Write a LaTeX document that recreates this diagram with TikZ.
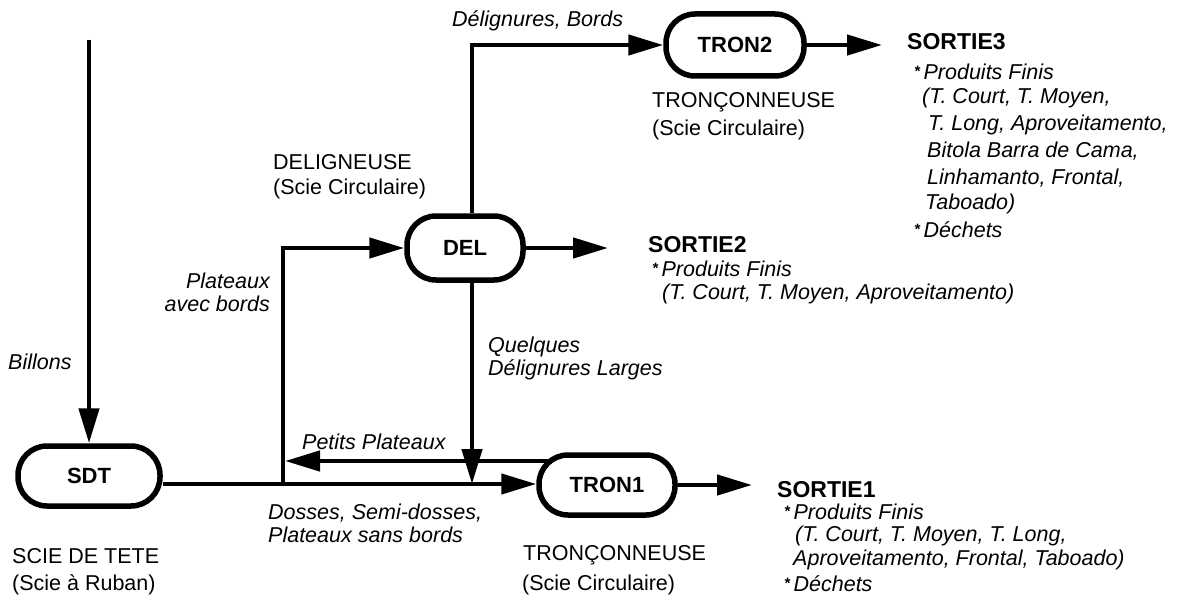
\documentclass[tikz,border=0pt]{standalone}
\usepackage{fontspec}
\setmainfont{Liberation Sans}
\usetikzlibrary{arrows.meta,calc}
\newcommand{\bul}{\raisebox{3pt}{\fontsize{15}{15}\selectfont\bfseries *}\,}
\begin{document}
\begin{tikzpicture}[x=1pt,y=-1pt,
 box/.style={draw, line width=5.5pt, rounded corners=29pt, minimum height=60pt, inner sep=0pt, font=\fontsize{22}{26}\selectfont\bfseries},
 flow/.style={line width=4.5pt, -{Triangle[length=35pt,width=20pt]}},
 lbl/.style={anchor=west, inner sep=0pt, font=\fontsize{21.5}{25}\selectfont, align=left},
 ilbl/.style={anchor=west, inner sep=0pt, font=\fontsize{21.5}{23}\selectfont\itshape, align=left},
 stitle/.style={anchor=west, inner sep=0pt, font=\fontsize{23}{25}\selectfont\bfseries},
 sitem/.style={anchor=west, inner sep=0pt, font=\fontsize{21.5}{25}\selectfont\itshape},
]
\useasboundingbox (0,0) rectangle (1185,607);

% process nodes
\node[box, minimum width=142pt] (SDT) at (89,476) {SDT};
\node[box, minimum width=136pt] (TRON1) at (607,485) {TRON1};
\node[box, minimum width=116pt, minimum height=64pt] (DEL) at (465,248) {DEL};
\node[box, minimum width=138pt, minimum height=62pt] (TRON2) at (735,45) {TRON2};

% free ends and junctions
\coordinate (j1) at (283,484);
\coordinate (j2) at (472,484);
\coordinate (b0) at (89,40);
\coordinate (o1) at (752,485);
\coordinate (o2) at (608,248);
\coordinate (o3) at (882,45);
\coordinate (pp) at (283,461);

% connectors
\draw[flow] (b0) -- (SDT.north);
\draw[flow] (SDT.east |- j1) -- (TRON1.west |- j1);
\draw[flow] (j1) -- (j1 |- DEL.west) -- (DEL.west);
\draw[flow, shorten >=2pt] ($(TRON1.west)+(12,-24)$) -- (pp);
\draw[flow] (DEL.south -| j2) -- (j2);
\draw[flow] (DEL.north -| j2) -- (j2 |- TRON2.west) -- (TRON2.west);
\draw[flow] (DEL.east) -- (o2);
\draw[flow] (TRON1.east) -- (o1);
\draw[flow] (TRON2.east) -- (o3);

% labels
\node[ilbl] (billons) at (8,362) {Billons};
\node[lbl] (sdtname) at (12,556) {SCIE DE TETE};
\node[lbl] (sdtsub) at (12,585) {(Scie à Ruban)};
\node[ilbl] (dosses) at (268,523) {Dosses, Semi-dosses,\\Plateaux sans bords};
\node[ilbl] (petits) at (302,442) {Petits Plateaux};
\node[lbl] (t1name) at (523,555) {TRONÇONNEUSE};
\node[lbl] (t1sub) at (522,585) {(Scie Circulaire)};
\node[ilbl] (quelq) at (488,358) {Quelques\\Délignures Larges};
\node[ilbl, anchor=east, align=right] (avec) at (270,292) {Plateaux\\avec bords};
\node[lbl] (delname) at (273,162) {DELIGNEUSE};
\node[lbl] (delsub) at (273,189) {(Scie Circulaire)};
\node[ilbl] (delbords) at (452,21) {Délignures, Bords};
\node[lbl] (t2name) at (652,102) {TRONÇONNEUSE};
\node[lbl] (t2sub) at (652,130) {(Scie Circulaire)};

% output SORTIE1
\node[stitle] (s1) at (777,490) {SORTIE1};
\node[sitem] (s1a) at (784,512) {\bul Produits Finis};
\node[sitem] (s1b) at (795,536) {(T. Court, T. Moyen, T. Long,};
\node[sitem] (s1c) at (793,560) {Aproveitamento, Frontal, Taboado)};
\node[sitem] (s1d) at (784,584) {\bul Déchets};
% output SORTIE2
\node[stitle] (s2) at (648,245) {SORTIE2};
\node[sitem] (s2a) at (652,269) {\bul Produits Finis};
\node[sitem] (s2b) at (662,294) {(T. Court, T. Moyen, Aproveitamento)};
% output SORTIE3
\node[stitle] (s3) at (907,42) {SORTIE3};
\node[sitem] (s3a) at (914,72) {\bul Produits Finis};
\node[sitem] (s3b) at (922,98) {(T. Court, T. Moyen,};
\node[sitem] (s3c) at (928,125) {T. Long, Aproveitamento,};
\node[sitem] (s3d) at (927,151) {Bitola Barra de Cama,};
\node[sitem] (s3e) at (927,178) {Linhamanto, Frontal,};
\node[sitem] (s3f) at (925,204) {Taboado)};
\node[sitem] (s3g) at (914,230) {\bul Déchets};
\end{tikzpicture}
\end{document}
